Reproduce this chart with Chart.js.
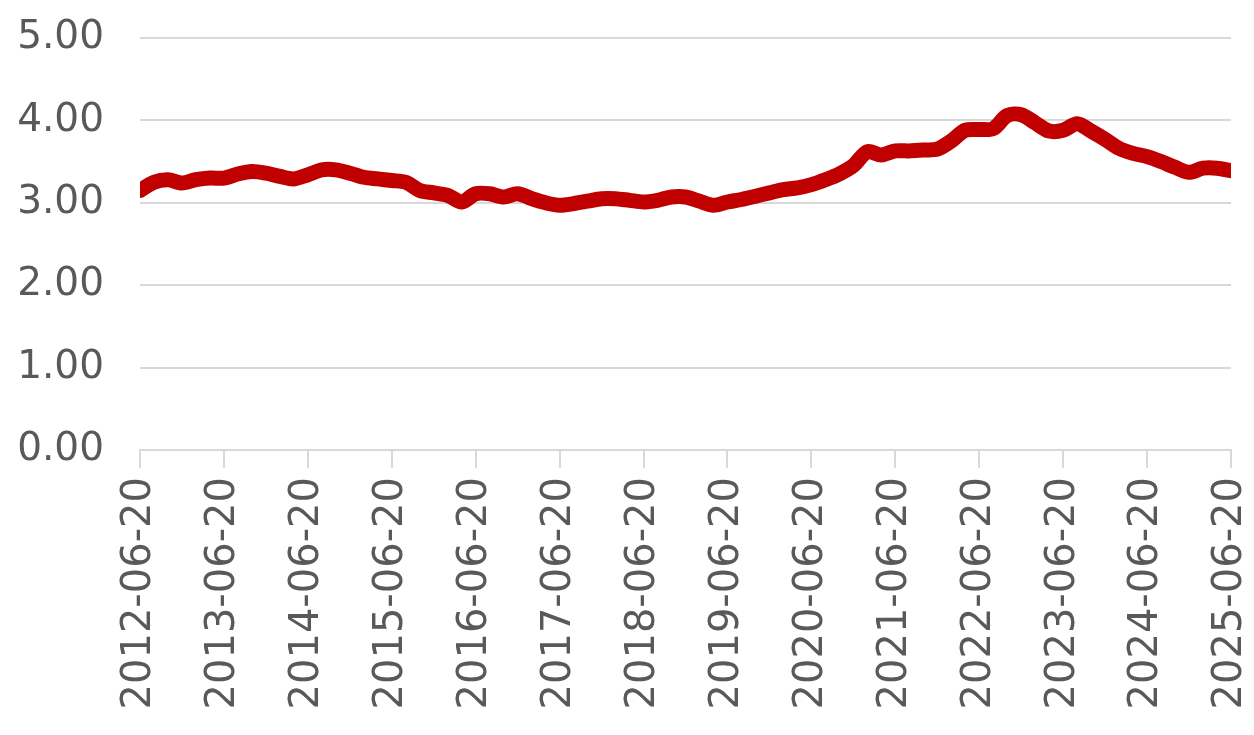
<!DOCTYPE html>
<html>
<head>
<meta charset="utf-8">
<script src="https://cdn.jsdelivr.net/npm/chart.js@4/dist/chart.umd.min.js"></script>
<style>
html,body{margin:0;padding:0;background:#fff;}
#wrap{width:1254px;height:735px;}
</style>
</head>
<body>
<div id="wrap"><canvas id="c" width="1254" height="735"></canvas></div>
<script>
// Bi-monthly samples
const sampleDates = [
 '2012-06','2012-08','2012-10','2012-12','2013-02','2013-04',
 '2013-06','2013-08','2013-10','2013-12','2014-02','2014-04',
 '2014-06','2014-08','2014-10','2014-12','2015-02','2015-04',
 '2015-06','2015-08','2015-10','2015-12','2016-02','2016-04',
 '2016-06','2016-08','2016-10','2016-12','2017-02','2017-04',
 '2017-06','2017-08','2017-10','2017-12','2018-02','2018-04',
 '2018-06','2018-08','2018-10','2018-12','2019-02','2019-04',
 '2019-06','2019-08','2019-10','2019-12','2020-02','2020-04',
 '2020-06','2020-08','2020-10','2020-12','2021-02','2021-04',
 '2021-06','2021-08','2021-10','2021-12','2022-02','2022-04',
 '2022-06','2022-08','2022-10','2022-12','2023-02','2023-04',
 '2023-06','2023-08','2023-10','2023-12','2024-02','2024-04',
 '2024-06','2024-08','2024-10','2024-12','2025-02','2025-04',
 '2025-06'
];
const seriesValues = [
 3.15,3.25,3.28,3.24,3.28,3.30,
 3.30,3.35,3.38,3.36,3.32,3.29,
 3.34,3.40,3.40,3.36,3.31,3.29,
 3.27,3.25,3.15,3.12,3.09,3.01,
 3.11,3.11,3.07,3.11,3.05,3.00,
 2.97,2.99,3.02,3.05,3.05,3.03,
 3.01,3.03,3.07,3.07,3.02,2.97,
 3.01,3.04,3.08,3.12,3.16,3.18,
 3.22,3.28,3.35,3.45,3.62,3.58,
 3.63,3.63,3.64,3.65,3.75,3.88,
 3.89,3.90,4.06,4.07,3.97,3.87,
 3.88,3.96,3.87,3.77,3.66,3.60,
 3.56,3.50,3.43,3.37,3.42,3.42,
 3.39
];
const tickLabels = [
 '2012-06-20','2013-06-20','2014-06-20','2015-06-20','2016-06-20',
 '2017-06-20','2018-06-20','2019-06-20','2020-06-20','2021-06-20',
 '2022-06-20','2023-06-20','2024-06-20','2025-06-20'
];
const yTicks = [0,1,2,3,4,5];

const points = sampleDates.map((d,i)=>{
  const [y,m] = d.split('-').map(Number);
  return {x:(y-2012)+(m-6)/12, y:seriesValues[i]};
});

new Chart(document.getElementById('c'),{
  type:'line',
  data:{datasets:[{
    data:points,
    borderColor:'#C00000',
    borderWidth:15,
    pointRadius:0,
    tension:0.3,
    borderCapStyle:'round',
    borderJoinStyle:'round'
  }]},
  options:{
    responsive:false,
    animation:false,
    events:[],
    layout:{padding:{top:38,right:23,left:0,bottom:0}},
    plugins:{legend:{display:false},tooltip:{enabled:false}},
    scales:{
      x:{
        type:'linear',
        min:0,max:tickLabels.length-1,
        afterBuildTicks(s){ s.ticks = tickLabels.map((_,i)=>({value:i})); },
        afterFit(s){ s.height = 285; s.paddingLeft = 0; s.paddingRight = 0; },
        grid:{drawOnChartArea:false,drawTicks:true,tickLength:18,color:'#d9d9d9',lineWidth:2},
        border:{display:true,color:'#d9d9d9',width:2},
        ticks:{
          autoSkip:false,minRotation:90,maxRotation:90,padding:9,
          color:'#595959',font:{family:'"DejaVu Sans"', size:40},
          callback:(v)=>tickLabels[v]
        }
      },
      y:{
        min:0,max:5,
        afterBuildTicks(s){ s.ticks = yTicks.map(v=>({value:v})); },
        afterFit(s){ s.width = 140; s.paddingTop = 0; s.paddingBottom = 0; },
        grid:{color:'#d9d9d9',lineWidth:2,drawTicks:false},
        border:{display:false},
        ticks:{padding:36,color:'#595959',font:{family:'"DejaVu Sans"', size:39},callback:(v)=>v.toFixed(2)}
      }
    }
  }
});
</script>
</body>
</html>
